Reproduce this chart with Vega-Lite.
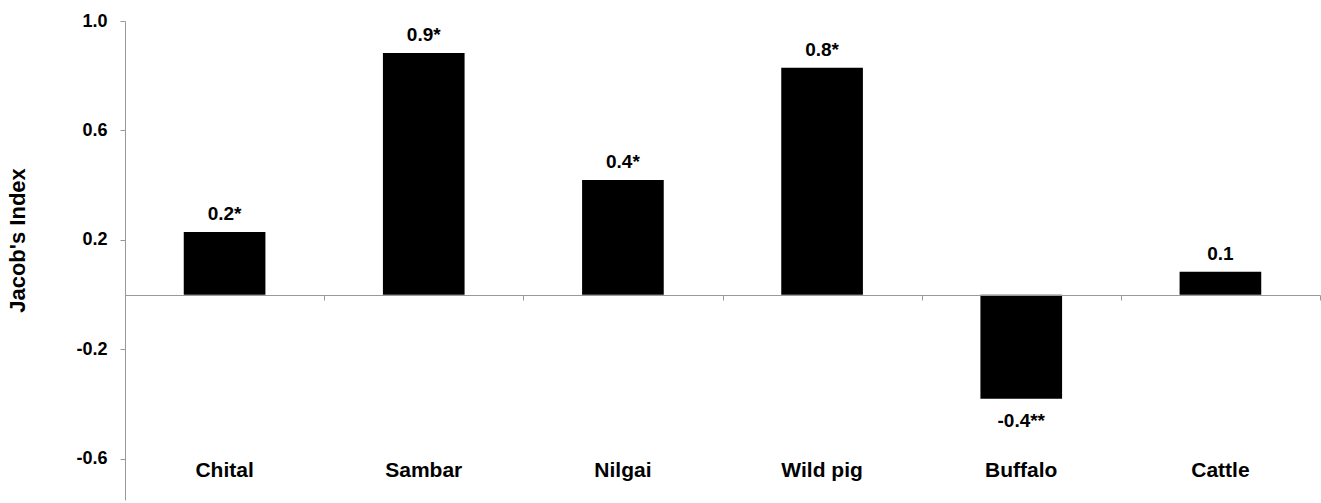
{
  "$schema": "https://vega.github.io/schema/vega-lite/v6.json",
  "width": 1195,
  "height": 479,
  "autosize": {"type": "none"},
  "padding": {"left": 125, "top": 21, "right": 1, "bottom": 3},
  "background": "white",
  "config": {
    "view": {"stroke": null},
    "font": "Liberation Sans",
    "locale": {"number": {"decimal": ".", "thousands": ",", "grouping": [3], "currency": ["$", ""], "minus": "-"}}
  },
  "data": {
    "values": [
      {"species": "Chital", "value": 0.229, "label": "0.2*"},
      {"species": "Sambar", "value": 0.883, "label": "0.9*"},
      {"species": "Nilgai", "value": 0.419, "label": "0.4*"},
      {"species": "Wild pig", "value": 0.829, "label": "0.8*"},
      {"species": "Buffalo", "value": -0.38, "label": "-0.4**"},
      {"species": "Cattle", "value": 0.084, "label": "0.1"}
    ]
  },
  "resolve": {"axis": {"x": "independent"}},
  "layer": [
    {
      "mark": {"type": "bar", "color": "black", "width": {"band": 0.41}},
      "encoding": {
        "x": {
          "field": "species", "type": "nominal", "sort": null,
          "scale": {"paddingInner": 0, "paddingOuter": 0},
          "axis": {
            "orient": "bottom",
            "title": null, "labels": false, "domain": true, "domainColor": "#999999",
            "ticks": true, "tickBand": "extent", "tickColor": "#999999", "tickSize": 5,
            "offset": -205, "zindex": 1
          }
        },
        "y": {
          "field": "value", "type": "quantitative",
          "scale": {"domain": [-0.75, 1.0], "nice": false, "zero": false},
          "axis": {
            "title": "Jacob's Index", "titleFont": "Liberation Sans", "titleFontSize": 22,
            "titleFontWeight": "bold", "titleColor": "black", "titlePadding": 46,
            "titleY": 219,
            "values": [1.0, 0.6, 0.2, -0.2, -0.6], "format": ".1f",
            "labelFontSize": 18, "labelFontWeight": "bold", "labelColor": "black",
            "labelPadding": 13, "grid": false, "domainColor": "#999999",
            "tickColor": "#999999", "tickSize": 5
          }
        }
      }
    },
    {
      "transform": [{"filter": "datum.value >= 0"}],
      "mark": {"type": "text", "baseline": "alphabetic", "dy": -12, "fontSize": 19, "fontWeight": "bold", "color": "black"},
      "encoding": {
        "x": {
          "field": "species", "type": "nominal", "sort": null,
          "axis": {
            "orient": "bottom",
            "title": null, "domain": false, "ticks": false, "labelFontSize": 21,
            "labelFontWeight": "bold", "labelColor": "black", "labelPadding": 0,
            "offset": -41, "labelAngle": 0
          }
        },
        "y": {"field": "value", "type": "quantitative"},
        "text": {"field": "label"}
      }
    },
    {
      "transform": [{"filter": "datum.value < 0"}],
      "mark": {"type": "text", "baseline": "top", "dy": 13, "fontSize": 19, "fontWeight": "bold", "color": "black"},
      "encoding": {
        "x": {"field": "species", "type": "nominal", "sort": null, "axis": null},
        "y": {"field": "value", "type": "quantitative"},
        "text": {"field": "label"}
      }
    }
  ]
}
